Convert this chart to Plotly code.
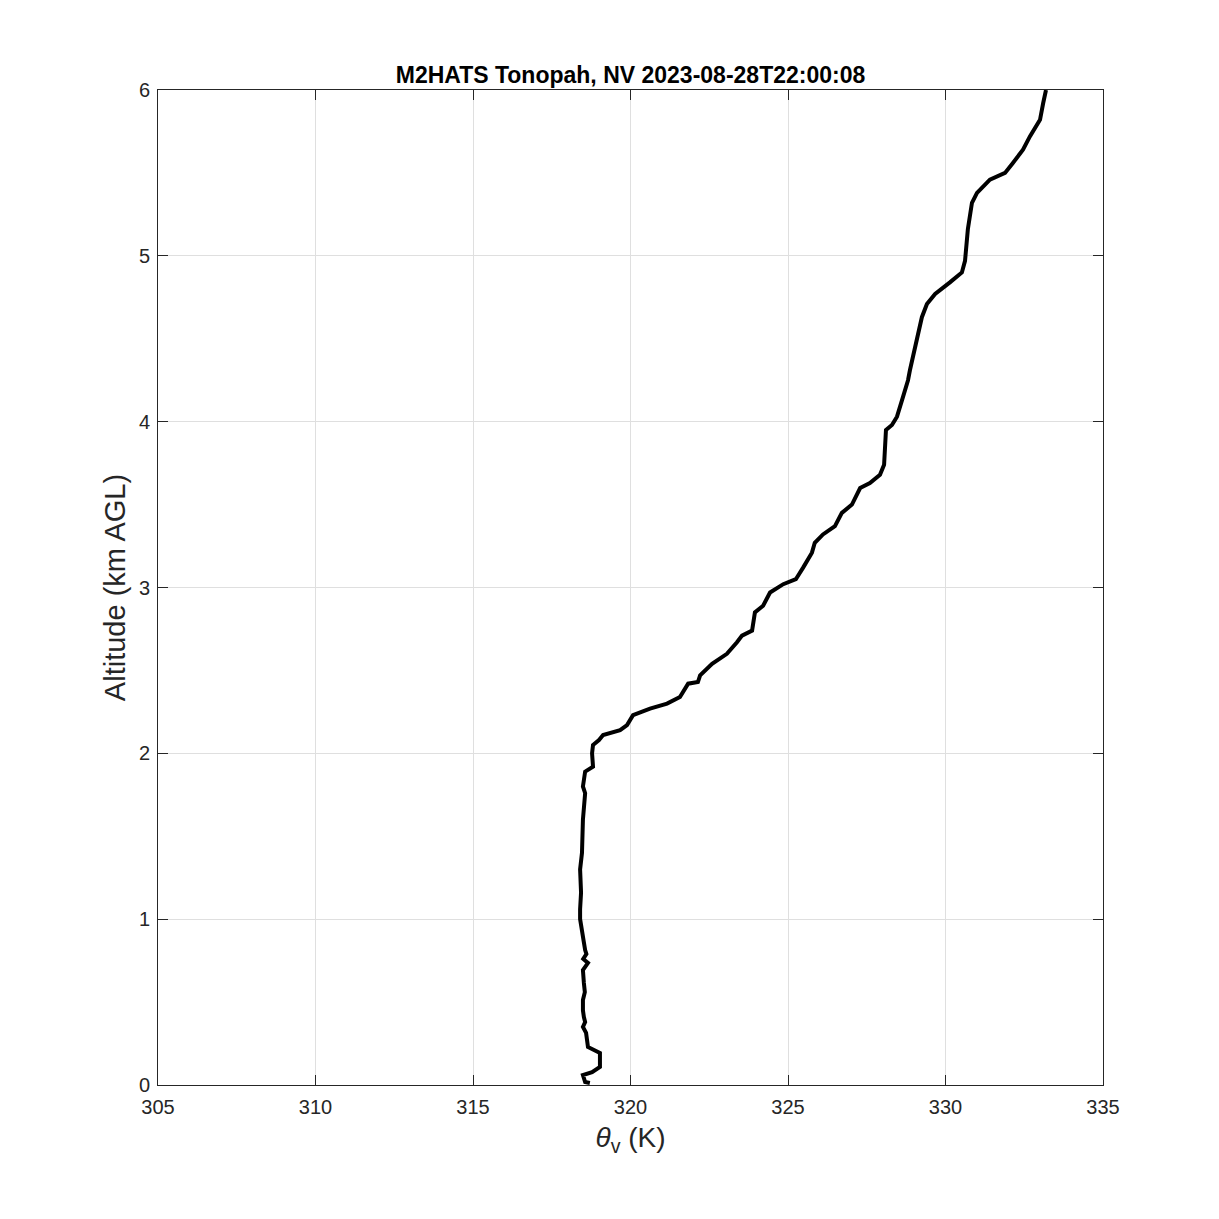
import plotly.graph_objects as go

# Sounding profile
altitude_km = [0.012, 0.018, 0.060, 0.078, 0.109, 0.193, 0.229, 0.314, 0.350, 0.380,
               0.410, 0.450, 0.513, 0.560, 0.615, 0.693, 0.736, 0.760, 0.790, 0.814,
               0.860, 0.917, 1.001, 1.06, 1.16, 1.30, 1.40, 1.60, 1.76, 1.80,
               1.89, 1.92, 2.00, 2.05, 2.08, 2.11, 2.14, 2.17, 2.20, 2.23,
               2.27, 2.30, 2.34, 2.42, 2.43, 2.47, 2.54, 2.60, 2.67, 2.71,
               2.74, 2.85, 2.89, 2.97, 3.02, 3.05, 3.12, 3.21, 3.27, 3.32,
               3.37, 3.45, 3.50, 3.60, 3.63, 3.68, 3.74, 3.95, 3.98, 4.03,
               4.13, 4.25, 4.31, 4.49, 4.63, 4.71, 4.77, 4.84, 4.90, 4.97,
               5.16, 5.32, 5.38, 5.46, 5.50, 5.56, 5.64, 5.72, 5.82, 5.92, 6.00]
theta_v_K = [318.71, 318.56, 318.49, 318.78, 319.03, 319.03, 318.65, 318.59, 318.49, 318.56,
             318.52, 318.49, 318.49, 318.55, 318.52, 318.49, 318.65, 318.50, 318.60, 318.56,
             318.52, 318.48, 318.40, 318.40, 318.43, 318.40, 318.46, 318.49, 318.56, 318.49,
             318.56, 318.81, 318.78, 318.81, 319.00, 319.13, 319.67, 319.89, 320.00, 320.08,
             320.62, 321.16, 321.57, 321.83, 322.14, 322.21, 322.59, 323.06, 323.38, 323.54,
             323.86, 323.95, 324.21, 324.43, 324.85, 325.25, 325.48, 325.76, 325.85, 326.11,
             326.49, 326.71, 327.03, 327.29, 327.60, 327.92, 328.05, 328.11, 328.30, 328.46,
             328.62, 328.81, 328.87, 329.10, 329.25, 329.41, 329.67, 330.14, 330.52, 330.62,
             330.71, 330.84, 331.00, 331.41, 331.89, 332.14, 332.46, 332.68, 333.00, 333.10, 333.19]

x_ticks = [305, 310, 315, 320, 325, 330, 335]
y_ticks = [0, 1, 2, 3, 4, 5, 6]
title_text = "M2HATS Tonopah, NV 2023-08-28T22:00:08"

fig = go.Figure()
fig.add_trace(go.Scatter(
    x=theta_v_K, y=altitude_km, mode="lines",
    line=dict(color="black", width=4), showlegend=False,
))

font_family = "Liberation Sans, Arial, Helvetica, sans-serif"
axis_common = dict(
    showline=True, linecolor="#262626", linewidth=1, mirror="allticks",
    ticks="inside", ticklen=10, tickcolor="#262626", tickwidth=1,
    showgrid=True, gridcolor="#dfdfdf", gridwidth=1, zeroline=False,
    tickfont=dict(family=font_family, size=20, color="#262626"),
)

fig.update_layout(
    width=1219, height=1219,
    paper_bgcolor="white", plot_bgcolor="white",
    margin=dict(l=150, r=124, t=82, b=142),
    title=dict(text="<b>" + title_text + "</b>", x=622.5 / 1219, xanchor="center",
               y=1 - 67 / 1219, yanchor="middle",
               font=dict(family=font_family, size=23, color="black")),
    xaxis=dict(range=[305, 335], tickvals=x_ticks, ticktext=[str(v) for v in x_ticks],
               ticklabelstandoff=4,
               title=dict(text="<i>θ</i><sub>v</sub> (K)", standoff=10,
                          font=dict(family=font_family, size=28, color="#262626")),
               **axis_common),
    yaxis=dict(range=[0, 6], tickvals=y_ticks, ticktext=[str(v) for v in y_ticks],
               ticklabelstandoff=3,
               title=dict(text="Altitude (km AGL)", standoff=4,
                          font=dict(family=font_family, size=29, color="#262626")),
               **axis_common),
)

fig.write_html("out.html")
